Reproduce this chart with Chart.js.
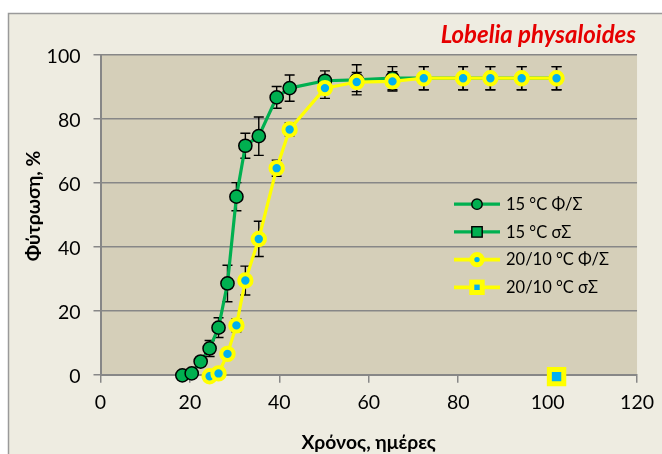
<!DOCTYPE html>
<html><head><meta charset="utf-8">
<script src="https://cdn.jsdelivr.net/npm/chart.js@4/dist/chart.umd.min.js"></script>
<style>html,body{margin:0;padding:0;background:#fff;overflow:hidden}canvas{display:block}</style>
</head><body>
<canvas id="c" width="662" height="454"></canvas>
<script>
// ---- text ----
const titleText = 'Lobelia physaloides';
const xTitle = 'Χρόνος, ημέρες';
const yTitle = 'Φύτρωση, %';
const seriesNames = ['15 °C Φ/Σ', '15 °C σΣ', '20/10 °C Φ/Σ', '20/10 °C σΣ'];
const xTicks = [0, 20, 40, 60, 80, 100, 120];
const yTicks = [0, 20, 40, 60, 80, 100];

// ---- data (days, germination %, error ±) ----
const days15  = [18.3, 20.4, 22.4, 24.4, 26.4, 28.4, 30.4, 32.4, 35.4, 39.4, 42.3, 50.2, 57.3, 65.3, 72.3, 81.1, 87.2, 94.2, 102];
const germ15  = [-0.2, 0.4, 4.1, 8.2, 14.7, 28.5, 55.6, 71.5, 74.5, 86.6, 89.5, 91.8, 92.1, 92.6, 92.6, 92.6, 92.6, 92.6, 92.6];
const err15   = [0, 0.5, 1.2, 2.5, 3.1, 5.7, 4.4, 3.9, 6.0, 3.4, 4.1, 3.1, 4.7, 3.6, 3.6, 3.6, 3.6, 3.6, 3.6];

const days2010 = [24.4, 26.4, 28.4, 30.4, 32.4, 35.4, 39.4, 42.3, 50.2, 57.3, 65.3, 72.3, 81.1, 87.2, 94.2, 102];
const germ2010 = [-0.5, 0.4, 6.5, 15.4, 29.4, 42.4, 64.5, 76.6, 89.5, 91.4, 91.6, 92.6, 92.6, 92.6, 92.6, 92.6];
const err2010  = [0, 0.5, 1.5, 2.0, 4.5, 5.5, 2.5, 2.0, 3.2, 3.0, 3.0, 3.6, 3.6, 3.6, 3.6, 3.6];

const daysS15 = [102];
const germS15 = [-0.6];
const daysS2010 = [102];
const germS2010 = [-0.6];

// ---- styles ----
const GREEN = '#00B050', YELLOW = '#FFFF00', BLUE = '#00B0F0';
const GRID = '#878787';
const FONT = 'Lato, "Noto Sans", sans-serif';

const pts = (xs, ys) => xs.map((v, i) => ({x: v, y: ys[i]}));

const framePlugin = {
  id: 'frame',
  beforeDraw(chart) {
    const {ctx, chartArea: a, width, height} = chart;
    ctx.save();
    ctx.fillStyle = '#ffffff'; ctx.fillRect(0, 0, width, height);
    ctx.fillStyle = '#EEECE1'; ctx.fillRect(8, 13, width - 8, height - 13);
    ctx.strokeStyle = '#9a9a9a'; ctx.lineWidth = 1.5;
    ctx.beginPath(); ctx.moveTo(8.5, height); ctx.lineTo(8.5, 13.5); ctx.lineTo(width, 13.5); ctx.stroke();
    ctx.fillStyle = '#D5CFB9'; ctx.fillRect(a.left, a.top, a.right - a.left, a.bottom - a.top);
    ctx.restore();
  }
};

const errorBarPlugin = {
  id: 'errorBars',
  beforeDatasetsDraw(chart) {
    const {ctx, scales: {x, y}} = chart;
    ctx.save(); ctx.strokeStyle = '#000'; ctx.lineWidth = 1.4;
    chart.data.datasets.forEach(ds => {
      if (!ds.errors) return;
      ds.data.forEach((p, i) => {
        const e = ds.errors[i]; if (!e) return;
        const px = x.getPixelForValue(p.x);
        const y1 = y.getPixelForValue(p.y + e), y2 = y.getPixelForValue(p.y - e);
        ctx.beginPath();
        ctx.moveTo(px, y1); ctx.lineTo(px, y2);
        ctx.moveTo(px - 5, y1); ctx.lineTo(px + 5, y1);
        ctx.moveTo(px - 5, y2); ctx.lineTo(px + 5, y2);
        ctx.stroke();
      });
    });
    ctx.restore();
  }
};

function drawMarker(ctx, kind, cx, cy) {
  ctx.save();
  if (kind === 0) { // green circle
    ctx.beginPath(); ctx.arc(cx, cy, 5.2, 0, Math.PI * 2);
    ctx.fillStyle = GREEN; ctx.fill(); ctx.lineWidth = 1.4; ctx.strokeStyle = '#000'; ctx.stroke();
  } else if (kind === 1) { // green square
    ctx.fillStyle = GREEN; ctx.fillRect(cx - 5.2, cy - 5.2, 10.4, 10.4);
    ctx.lineWidth = 1.4; ctx.strokeStyle = '#000'; ctx.strokeRect(cx - 5.2, cy - 5.2, 10.4, 10.4);
  } else if (kind === 2) { // yellow ring, blue centre
    ctx.beginPath(); ctx.arc(cx, cy, 5.2, 0, Math.PI * 2);
    ctx.fillStyle = BLUE; ctx.fill(); ctx.lineWidth = 5; ctx.strokeStyle = YELLOW; ctx.stroke();
  } else { // yellow square, blue centre
    ctx.fillStyle = BLUE; ctx.fillRect(cx - 5.2, cy - 5.2, 10.4, 10.4);
    ctx.lineWidth = 5; ctx.strokeStyle = YELLOW; ctx.strokeRect(cx - 5.2, cy - 5.2, 10.4, 10.4);
  }
  ctx.restore();
}

const textPlugin = {
  id: 'texts',
  afterDraw(chart) {
    const {ctx, chartArea: a} = chart;
    ctx.save();
    // title
    ctx.fillStyle = '#E60000';
    ctx.font = 'italic bold 24px ' + FONT;
    ctx.textAlign = 'right'; ctx.textBaseline = 'alphabetic';
    ctx.fillText(titleText, 636, 43);
    // axis titles
    ctx.fillStyle = '#000';
    ctx.font = 'bold 19.3px ' + FONT;
    ctx.textAlign = 'center';
    ctx.fillText(xTitle, (a.left + a.right) / 2, 448.5);
    ctx.save();
    ctx.translate(39.5, 206); ctx.rotate(-Math.PI / 2);
    ctx.fillText(yTitle, 0, 0);
    ctx.restore();
    // legend
    ctx.font = '16.5px ' + FONT;
    ctx.textAlign = 'left';
    const lines = [GREEN, GREEN, YELLOW, YELLOW];
    seriesNames.forEach((name, i) => {
      const cy = 204.2 + i * 27.7;
      ctx.strokeStyle = lines[i]; ctx.lineWidth = i < 2 ? 3.2 : 3.8;
      ctx.beginPath(); ctx.moveTo(454, cy); ctx.lineTo(500, cy); ctx.stroke();
      drawMarker(ctx, i, 477, cy);
      ctx.fillStyle = '#000';
      ctx.fillText(name, 506, cy + 5.8);
    });
    ctx.restore();
  }
};

new Chart(document.getElementById('c'), {
  type: 'scatter',
  data: {
    datasets: [
      { label: seriesNames[2], data: pts(days2010, germ2010), errors: err2010, showLine: true,
        borderColor: YELLOW, borderWidth: 3.2, pointStyle: 'circle', pointRadius: 6.2, pointBorderWidth: 4,
        pointBorderColor: YELLOW, pointBackgroundColor: BLUE, clip: false, order: 1 },
      { label: seriesNames[3], data: pts(daysS2010, germS2010), showLine: false,
        pointStyle: 'rect', pointRadius: 10.2, pointBorderWidth: 5,
        pointBorderColor: YELLOW, pointBackgroundColor: BLUE, clip: false, order: 0 },
      { label: seriesNames[0], data: pts(days15, germ15), errors: err15, showLine: true,
        borderColor: GREEN, borderWidth: 3.2, pointStyle: 'circle', pointRadius: 6.6, pointBorderWidth: 1.5,
        pointBorderColor: '#000', pointBackgroundColor: GREEN, clip: false, order: 3 },
      { label: seriesNames[1], data: pts(daysS15, germS15), showLine: false,
        pointStyle: 'rect', pointRadius: 8.5, pointBorderWidth: 1.5,
        pointBorderColor: '#000', pointBackgroundColor: GREEN, clip: false, order: 2 }
    ]
  },
  options: {
    responsive: false, animation: false, devicePixelRatio: 1,
    events: [],
    layout: { padding: { left: 8, right: 21, top: 54.5, bottom: 0 } },
    plugins: { legend: { display: false }, tooltip: { enabled: false }, title: { display: false } },
    elements: { line: { tension: 0 } },
    scales: {
      x: {
        type: 'linear', min: 0, max: 120,
        afterBuildTicks: s => { s.ticks = xTicks.map(v => ({value: v})); },
        afterFit: s => { s.height = 79.3; },
        grid: { drawOnChartArea: false, drawTicks: true, tickLength: 8, color: GRID, lineWidth: 1.5 },
        border: { display: true, color: GRID, width: 2 },
        ticks: { color: '#000', font: { family: FONT, size: 19.5 }, padding: 8, maxRotation: 0 }
      },
      y: {
        type: 'linear', min: 0, max: 100,
        afterBuildTicks: s => { s.ticks = yTicks.map(v => ({value: v})); },
        afterFit: s => { s.width = 92.5; },
        grid: { drawOnChartArea: true, drawTicks: true, tickLength: 7, color: GRID, lineWidth: 1.5 },
        border: { display: true, color: GRID, width: 2 },
        ticks: { color: '#000', font: { family: FONT, size: 19.5 }, padding: 13, labelOffset: 2.5 }
      }
    }
  },
  plugins: [framePlugin, errorBarPlugin, textPlugin]
});
</script>
</body></html>
